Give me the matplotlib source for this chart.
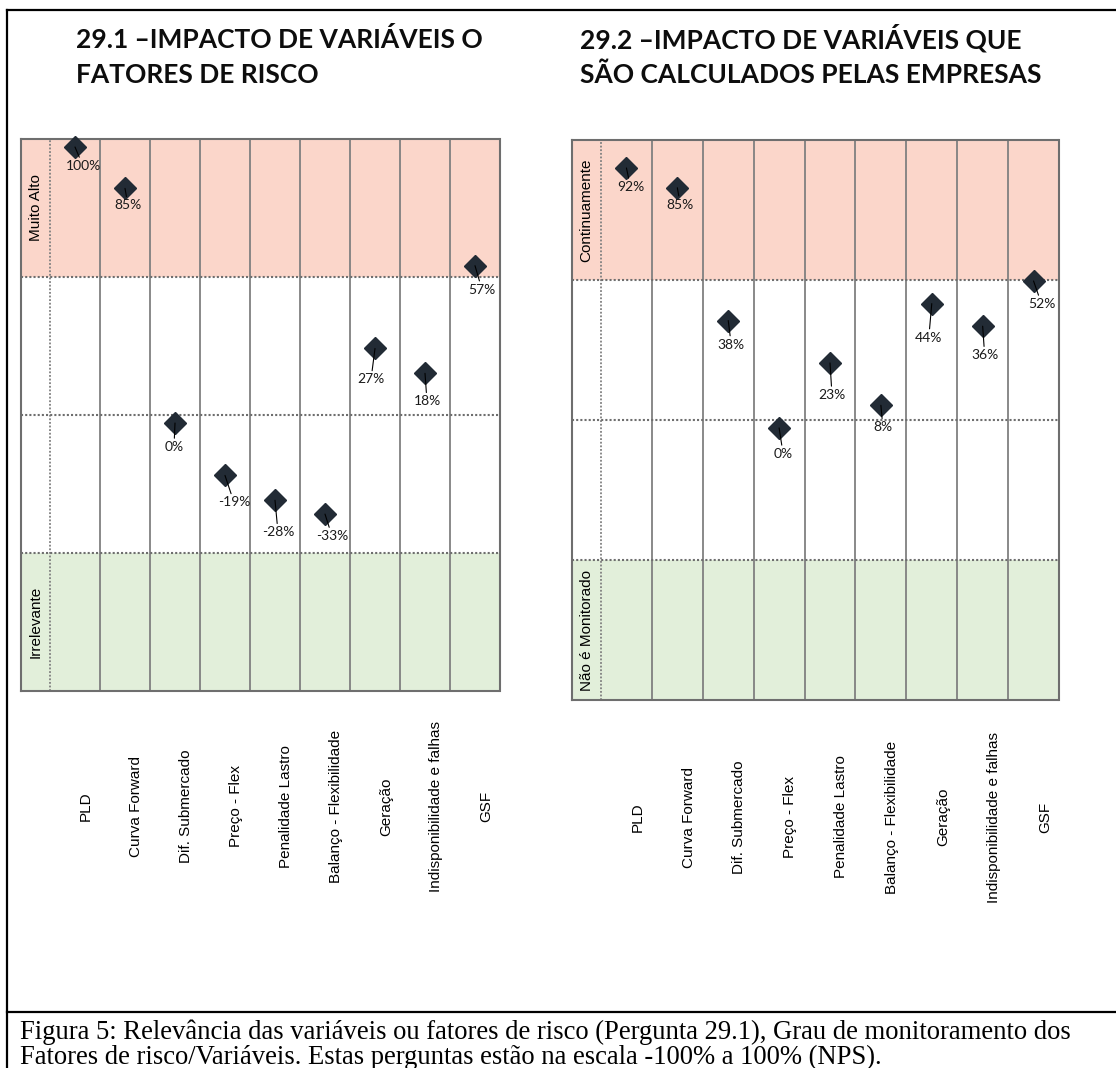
import numpy as np
import matplotlib.pyplot as plt
import matplotlib.transforms as mtransforms
from matplotlib.lines import Line2D

# risk factors (x categories) and NPS-style scores in %
factors = ['PLD', 'Curva Forward', 'Dif. Submercado', 'Preço - Flex', 'Penalidade Lastro',
           'Balanço - Flexibilidade', 'Geração', 'Indisponibilidade e falhas', 'GSF']
impacto = [100, 85, 0, -19, -28, -33, 27, 18, 57]
monitoramento = [92, 85, 38, 0, 23, 8, 44, 36, 52]

titulo_1 = ['29.1 –IMPACTO DE VARIÁVEIS O', 'FATORES DE RISCO']
titulo_2 = ['29.2 –IMPACTO DE VARIÁVEIS QUE', 'SÃO CALCULADOS PELAS EMPRESAS']
faixas_1 = ['Muito Alto', 'Irrelevante']
faixas_2 = ['Continuamente', 'Não é Monitorado']
legenda = ['Figura 5: Relevância das variáveis ou fatores de risco (Pergunta 29.1), Grau de monitoramento dos',
           'Fatores de risco/Variáveis. Estas perguntas estão na escala -100% a 100% (NPS).']

# label nudges (pixels right, pixels down) from each diamond
desloc_1 = [(8, 19), (3, 17), (-1, 24), (9, 27), (3, 32), (7, 22), (-4, 31), (2, 28), (7, 24)]
desloc_2 = [(4, 19), (3, 17), (3, 24), (4, 26), (2, 32), (2, 22), (-3, 34), (2, 29), (8, 23)]

W, H = 1116, 1068
fig = plt.figure(figsize=(W / 100, H / 100), dpi=100)

ROSA = '#fbd6ca'
VERDE = '#e2efda'
CINZA = '#808080'
DIAMANTE = '#222b35'


def px_axes(x0, y0, x1, y1):
    return fig.add_axes([x0 / W, 1 - y1 / H, (x1 - x0) / W, (y1 - y0) / H])


def painel(ax, valores, desloc, faixas, ylim, x_esq):
    n = len(valores)
    ax.set_xlim(x_esq, n - 0.5)
    ax.set_ylim(*ylim)
    limites = np.linspace(ylim[0], ylim[1], 5)

    # coloured bands: top = pink, bottom = green
    ax.axhspan(limites[3], limites[4], color=ROSA, lw=0, zorder=0)
    ax.axhspan(limites[0], limites[1], color=VERDE, lw=0, zorder=0)

    # cell borders
    for xv in np.arange(0.5, n - 0.5, 1):
        ax.axvline(xv, color=CINZA, lw=1.3, zorder=1)
    ax.axvline(-0.5, color=CINZA, lw=1.3, ls=(0, (1, 1)), zorder=1)
    for yh in limites[1:4]:
        ax.axhline(yh, color='#6e6e6e', lw=1.5, ls=(0, (1, 1)), zorder=1)
    for s in ax.spines.values():
        s.set_color('#6e6e6e')
        s.set_linewidth(1.5)
        s.set_linestyle((0, (1, 1)))
    ax.set_xticks([])
    ax.set_yticks([])
    ax.patch.set_alpha(0)

    # band titles in the first (narrow) column
    xc = (x_esq - 0.5) / 2
    ax.text(xc, (limites[3] + limites[4]) / 2, faixas[0], rotation=90, ha='center', va='center',
            fontsize=11, family='Liberation Sans')
    ax.text(xc, (limites[0] + limites[1]) / 2, faixas[1], rotation=90, ha='center', va='center',
            fontsize=11, family='Liberation Sans')

    xs = np.arange(n)
    ax.plot(xs, valores, ls='none', marker='D', ms=11.5, color=DIAMANTE, zorder=3, clip_on=False)
    for x, v, (dx, dy) in zip(xs, valores, desloc):
        ax.annotate(f'{v}%', (x, v), xytext=(dx, -dy), textcoords='offset pixels',
                    ha='center', va='center', fontsize=10, family='Lato', color='#1a1a1a',
                    arrowprops=dict(arrowstyle='-', color='black', lw=0.8,
                                    shrinkA=0, shrinkB=0),
                    zorder=4, annotation_clip=False)

    # rotated category labels under the grid
    trans = mtransforms.blended_transform_factory(ax.transData, ax.transAxes)
    for x, nome in zip(xs, factors):
        ax.text(x + 0.22, -0.209, nome, transform=trans, rotation=90, ha='center', va='center',
                fontsize=11, family='Liberation Sans', clip_on=False)


ax1 = px_axes(21, 139, 500, 691)
painel(ax1, impacto, desloc_1, faixas_1, (-97.1, 102.9), -1.08)

ax2 = px_axes(572, 140, 1059, 700)
painel(ax2, monitoramento, desloc_2, faixas_2, (-96.3, 101.9), -1.07)

# panel titles
for (x0, linhas) in [(76, titulo_1), (580, titulo_2)]:
    for k, linha in enumerate(linhas):
        fig.text(x0 / W, 1 - (48 + 35 * k) / H, linha, ha='left', va='baseline',
                 fontsize=19, fontweight='bold', family='Lato', color='#0d0d0d')

# caption
for k, linha in enumerate(legenda):
    fig.text(20 / W, 1 - (1039 + 25 * k) / H, linha, ha='left', va='baseline',
             fontsize=19.2, family='Liberation Serif', color='black')

# page frame and caption box
for xs_, ys_ in [([7, W], [10, 10]), ([7, 7], [10, H]), ([7, W], [1012, 1012])]:
    fig.add_artist(Line2D([x / W for x in xs_], [1 - y / H for y in ys_], color='black', lw=1.6,
                          transform=fig.transFigure))

fig.savefig('out.png', dpi=100)
